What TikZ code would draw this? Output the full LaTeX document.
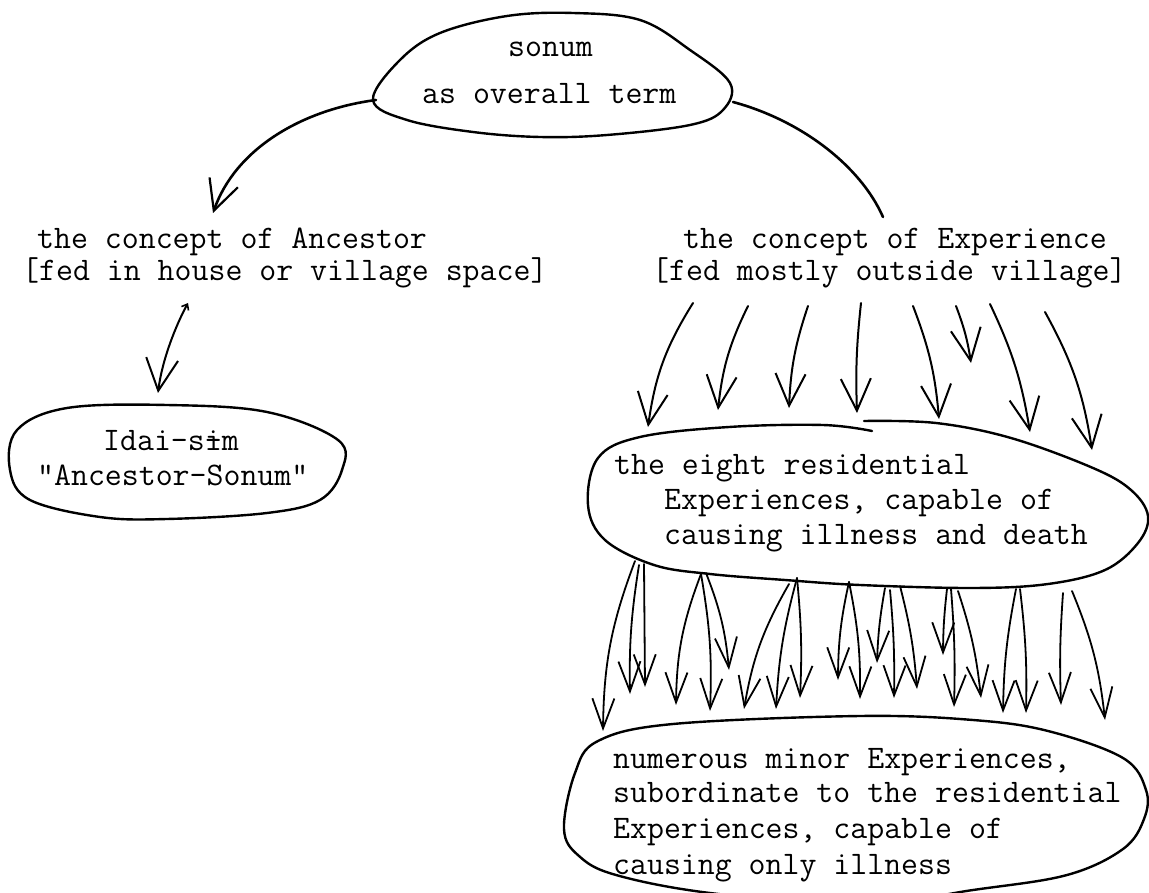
\documentclass[tikz,border=0pt]{standalone}
\usepackage{fontspec}
\usetikzlibrary{arrows.meta}

\tikzset{
  x=1pt, y=-1pt,
  txt/.style={font=\ttfamily\addfontfeatures{FakeBold=0.5}\fontsize{32.9}{35}\selectfont, inner sep=0pt, anchor=base west},
  outline/.style={line width=2.4pt, line join=round, line cap=round},
  link/.style={line width=2.6pt, line cap=round},
  bighead/.style={-{Straight Barb[length=30pt,width=30pt,line width=2.2pt]}},
  arrup/.style={line width=2pt, line cap=round, -{Straight Barb[length=32pt,width=30pt,line width=2pt]}},
  arrlow/.style={line width=1.8pt, line cap=round, -{Straight Barb[length=30pt,width=22pt,line width=1.8pt]}},
}

\begin{document}
\begin{tikzpicture}
\useasboundingbox (0,0) rectangle (1149,893);

% ---- texts ----
\node[txt] (sonumA) at (508,57) {sonum};
\node[txt] (sonumB) at (422,104) {as overall term};
\node[txt] (anc1) at (37,249) {the concept of Ancestor};
\node[txt] (anc2) at (22,281) {[fed in house or village space]};
\node[txt] (exp1) at (683,249) {the concept of Experience};
\node[txt] (exp2) at (652,281) {[fed mostly outside village]};
\node[txt] (idai1) at (103,450) {Idai-s\rlap{i}-m};
\node[txt] (idai2) at (37,485) {"Ancestor-Sonum"};
\node[txt] (res1) at (614,474) {the eight residential};
\node[txt] (res2) at (664,509) {Experiences, capable of};
\node[txt] (res3) at (664,544) {causing illness and death};
\node[txt] (min1) at (613,768) {numerous minor Experiences,};
\node[txt] (min2) at (613,802) {subordinate to the residential};
\node[txt] (min3) at (613,838) {Experiences, capable of};
\node[txt] (min4) at (613,874) {causing only illness};

% ---- hand-drawn outlines ----
\draw[outline] plot[smooth cycle, tension=0.6] coordinates {
  (373,100) (400,60) (440,33) (507,16) (573,13) (640,20) (690,50) (730,83)
  (723,110) (690,125) (607,135) (540,137) (473,132) (407,120)};
% residential ring, drawn in one stroke that overlaps itself at the top
\draw[outline] plot[smooth, tension=0.6] coordinates {
  (864,421) (936,423) (1011,438) (1093,468) (1131,490) (1148,516) (1138,543)
  (1105,570) (1048,584) (973,588) (860,585) (785,580) (710,574) (654,565)
  (605,540) (588,505) (598,458) (640,437) (729,427) (823,425) (872,431)};
\draw[outline] plot[smooth cycle, tension=0.6] coordinates {
  (564,829) (575,773) (598,741) (673,724) (860,716) (973,720) (1048,731)
  (1123,758) (1146,790) (1144,819) (1123,849) (1067,875) (973,890) (860,905)
  (710,893) (616,875) (579,856)};
\draw[outline] plot[smooth cycle, tension=0.6] coordinates {
  (10,470) (17,430) (67,408) (167,405) (267,412) (338,440) (342,470) (320,500)
  (267,513) (167,519) (100,517) (30,500)};

% ---- connectors from the overall term ----
\coordinate (e1w) at (376,100);
\coordinate (ancTip) at (213,213);
\coordinate (e1e) at (733,102);
\coordinate (expEnd) at (883,217);
\draw[link, bighead] (e1w) .. controls (300,110) and (235,150) .. (ancTip);
\draw[link] (e1e) .. controls (800,120) and (860,165) .. (expEnd);

% ---- ancestor to Idai-sim ----
\coordinate (ancA) at (188,303);
\coordinate (ancB) at (158,393);
\draw[line width=2pt, line cap=round,
  {Straight Barb[length=5pt,width=8pt,line width=1.6pt]}-{Straight Barb[length=32pt,width=32pt,line width=2pt]}]
  (ancA) .. controls (176,325) and (162,360) .. (ancB);

% ---- experience to the eight residential ones ----
\foreach \tx/\ty/\hx/\hy/\b [count=\i] in {
  693/303/648/427/12, 748/306/718/410/10, 808/306/789/408/8, 861/303/857/413/4,
  913/306/939/419/-8, 956/306/971/363/-6, 990/304/1030/432/-8, 1045/312/1092/450/-10} {
  \coordinate (ut\i) at (\tx,\ty);
  \coordinate (uh\i) at (\hx,\hy);
  \draw[arrup] (ut\i) to[bend right=\b] (uh\i);
}

% ---- residential to minor ones ----
\foreach \tx/\ty/\hx/\hy/\b [count=\i] in {
  635/561/603/731/10, 639/565/630/694/5, 644/564/645/687/0,
  701/574/676/705/10, 701/574/710/711/-6, 706/573/729/670/-8,
  789/584/744/709/10, 797/578/776/709/6, 797/578/800/698/-4,
  849/582/838/680/6, 849/582/860/699/-6, 885/588/877/663/4,
  890/590/894/698/-3, 900/586/917/689/-5, 947/589/943/655/3,
  951/589/954/707/-3, 958/591/981/698/-6, 1016/589/1003/713/5,
  1020/589/1026/713/-4, 1063/593/1061/705/3, 1072/591/1105/720/-8} {
  \coordinate (lt\i) at (\tx,\ty);
  \coordinate (lh\i) at (\hx,\hy);
  \draw[arrlow] (lt\i) to[bend right=\b] (lh\i);
}
\end{tikzpicture}
\end{document}
